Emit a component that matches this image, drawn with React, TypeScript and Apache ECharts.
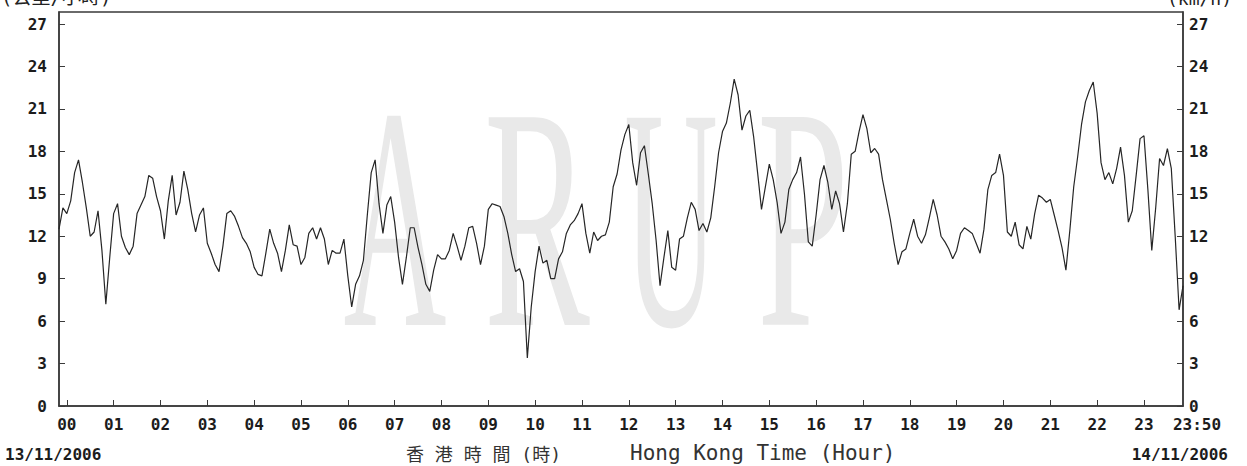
import React, { useEffect, useRef } from "react";
import * as echarts from "echarts";

// Time axis in minutes from 00:00 on 14/11/2006; the record starts at 23:50 of the previous day.
const START_MINUTE = -10;
const STEP_MINUTES = 5;
const END_MINUTE = 1430;
const END_LABEL = "23:50";

const hourTicks = [0, 60, 120, 180, 240, 300, 360, 420, 480, 540, 600, 660, 720, 780, 840, 900, 960, 1020, 1080, 1140, 1200, 1260, 1320, 1380];
const hourLabels = ["00", "01", "02", "03", "04", "05", "06", "07", "08", "09", "10", "11", "12", "13", "14", "15", "16", "17", "18", "19", "20", "21", "22", "23"];
const speedTicks = [0, 3, 6, 9, 12, 15, 18, 21, 24, 27];
const SPEED_MAX = 27.85;

const startDate = "13/11/2006";
const endDate = "14/11/2006";
const axisTitleZh = "香 港 時 間 (時)";
const axisTitleEn = "Hong Kong Time (Hour)";
const unitZh = "(公里/小時)";
const unitEn = "(km/h)";
const watermark = ["A", "R", "U", "P"];

// Wind speed (km/h), one reading every 5 minutes from 23:50 to 23:50.
const windSpeed = [
  12.5, 14.0,
  13.6, 14.5, 16.5, 17.4, 15.8, 14.0, 12.0, 12.3, 13.8, 11.0, 7.2, 10.5,
  13.6, 14.3, 12.0, 11.2, 10.7, 11.3, 13.6, 14.2, 14.8, 16.3, 16.1, 14.8,
  13.8, 11.8, 14.5, 16.3, 13.5, 14.4, 16.6, 15.3, 13.6, 12.3, 13.5, 14.0,
  11.5, 10.8, 10.0, 9.5, 11.3, 13.6, 13.8, 13.4, 12.7, 11.9, 11.5, 10.9,
  9.8, 9.3, 9.2, 10.8, 12.5, 11.5, 10.8, 9.5, 11.0, 12.8, 11.4, 11.3,
  10.0, 10.5, 12.2, 12.6, 11.8, 12.6, 11.8, 10.0, 11.0, 10.8, 10.8, 11.8,
  9.2, 7.0, 8.6, 9.2, 10.3, 13.5, 16.5, 17.4, 14.3, 12.2, 14.2, 14.8,
  13.0, 10.5, 8.6, 10.5, 12.6, 12.6, 11.2, 10.0, 8.6, 8.1, 9.6, 10.7,
  10.4, 10.4, 11.0, 12.2, 11.3, 10.3, 11.3, 12.6, 12.7, 11.5, 10.0, 11.3,
  13.9, 14.3, 14.2, 14.1, 13.4, 12.2, 10.7, 9.5, 9.7, 8.8, 3.4, 7.0,
  9.5, 11.3, 10.1, 10.3, 9.0, 9.0, 10.4, 10.9, 12.2, 12.8, 13.1, 13.6,
  14.3, 12.2, 10.8, 12.3, 11.7, 12.0, 12.1, 13.0, 15.5, 16.4, 18.1, 19.2,
  19.9, 17.2, 15.6, 17.9, 18.4, 16.4, 14.3, 11.7, 8.5, 10.5, 12.4, 9.8,
  9.6, 11.8, 12.0, 13.3, 14.4, 13.9, 12.4, 12.9, 12.3, 13.3, 15.5, 17.9,
  19.4, 20.0, 21.4, 23.1, 22.0, 19.5, 20.5, 20.9, 19.0, 16.5, 13.9, 15.5,
  17.1, 16.0, 14.4, 12.2, 13.0, 15.3, 16.0, 16.5, 17.6, 15.0, 11.6, 11.3,
  13.5, 16.0, 17.0, 15.8, 13.9, 15.2, 14.3, 12.3, 14.3, 17.8, 18.0, 19.4,
  20.6, 19.6, 17.9, 18.2, 17.8, 16.0, 14.6, 13.2, 11.5, 10.0, 10.9, 11.1,
  12.2, 13.2, 12.0, 11.5, 12.1, 13.3, 14.6, 13.5, 12.0, 11.6, 11.1, 10.4,
  11.0, 12.2, 12.6, 12.4, 12.2, 11.5, 10.8, 12.5, 15.3, 16.3, 16.5, 17.8,
  16.3, 12.3, 12.0, 13.0, 11.4, 11.1, 12.7, 11.8, 13.6, 14.9, 14.7, 14.4,
  14.6, 13.5, 12.4, 11.2, 9.6, 12.4, 15.5, 17.6, 19.9, 21.5, 22.3, 22.9,
  20.7, 17.2, 16.0, 16.5, 15.7, 16.8, 18.3, 16.3, 13.0, 13.8, 16.3, 18.9,
  19.1, 15.3, 11.0, 14.0, 17.5, 17.0, 18.2, 16.8, 12.0, 6.8, 8.5,
];

const MONO = '"DejaVu Sans Mono", "Noto Sans CJK TC", monospace';
const AXIS_COLOR = "#3a3a3a";
const TEXT_COLOR = "#1c1c1c";

const labelFont = {
  fontFamily: MONO,
  fontWeight: "bold" as const,
  fontSize: 16,
  color: TEXT_COLOR,
};

export default function App() {
  const ref = useRef<HTMLDivElement>(null);

  useEffect(() => {
    if (!ref.current) return;
    const chart = echarts.init(ref.current, undefined, { renderer: "svg" });

    const seriesData = windSpeed.map((v, i) => [START_MINUTE + i * STEP_MINUTES, v]);

    const speedAxis = (position: "left" | "right", margin: number) => ({
      type: "value" as const,
      position,
      min: 0,
      max: SPEED_MAX,
      axisLine: { show: true, onZero: false, lineStyle: { color: AXIS_COLOR, width: 1.6 } },
      axisTick: {
        show: true,
        inside: true,
        length: 6,
        customValues: speedTicks,
        lineStyle: { color: AXIS_COLOR, width: 1 },
      },
      axisLabel: { customValues: speedTicks, margin, ...labelFont },
      splitLine: { show: false },
    });

    const letterX = [395, 537, 671, 803];
    const letterScale = [0.45, 0.5, 0.41, 0.52];

    chart.setOption({
      animation: false,
      backgroundColor: "#ffffff",
      grid: {
        left: 59,
        right: 64,
        top: 12,
        bottom: 60,
        show: true,
        borderColor: AXIS_COLOR,
        borderWidth: 1.4,
        backgroundColor: "transparent",
      },
      xAxis: {
        type: "value",
        min: START_MINUTE,
        max: END_MINUTE,
        axisLine: { show: true, onZero: false, lineStyle: { color: AXIS_COLOR, width: 1.6 } },
        axisTick: {
          show: true,
          inside: true,
          length: 6,
          customValues: hourTicks,
          lineStyle: { color: AXIS_COLOR, width: 1 },
        },
        axisLabel: {
          customValues: [...hourTicks, END_MINUTE],
          margin: 10,
          ...labelFont,
          formatter: (v: number) =>
            v === END_MINUTE ? "{end|" + END_LABEL + "}" : hourLabels[Math.round(v / 60)],
          rich: {
            end: { ...labelFont, padding: [0, 0, 0, 28] },
          },
        },
        splitLine: { show: false },
      },
      yAxis: [speedAxis("left", 12), speedAxis("right", 6)],
      series: [
        {
          type: "line",
          data: seriesData,
          yAxisIndex: 0,
          symbol: "none",
          showSymbol: false,
          z: 5,
          lineStyle: { color: "#262626", width: 1.2 },
        },
      ],
      graphic: [
        ...watermark.map((ch, i) => ({
          type: "text",
          x: letterX[i],
          y: 218,
          scaleX: letterScale[i],
          z: 0,
          silent: true,
          style: {
            text: ch,
            font: '317px "Liberation Serif", "DejaVu Serif", serif',
            fill: "#e9e9e9",
            align: "center",
            verticalAlign: "middle",
          },
        })),
        {
          type: "text",
          x: 5,
          y: 454,
          style: {
            text: startDate,
            font: 'bold 16px ' + MONO,
            fill: TEXT_COLOR,
            align: "left",
            verticalAlign: "middle",
          },
        },
        {
          type: "text",
          x: 1228,
          y: 454,
          style: {
            text: endDate,
            font: 'bold 16px ' + MONO,
            fill: TEXT_COLOR,
            align: "right",
            verticalAlign: "middle",
          },
        },
        {
          type: "text",
          x: 406,
          y: 454,
          style: {
            text: axisTitleZh,
            font: '18px ' + MONO,
            fill: "#333333",
            align: "left",
            verticalAlign: "middle",
          },
        },
        {
          type: "text",
          x: 630,
          y: 453,
          style: {
            text: axisTitleEn,
            font: '21px ' + MONO,
            fill: "#333333",
            align: "left",
            verticalAlign: "middle",
          },
        },
        {
          type: "text",
          x: 1,
          y: -3,
          style: {
            text: unitZh,
            font: '19px ' + MONO,
            fill: "#222222",
            align: "left",
            verticalAlign: "middle",
          },
        },
        {
          type: "text",
          x: 1167,
          y: -2,
          style: {
            text: unitEn,
            font: '18px ' + MONO,
            fill: "#222222",
            align: "left",
            verticalAlign: "middle",
          },
        },
      ],
    });

    return () => chart.dispose();
  }, []);

  return (
    <div
      ref={ref}
      style={{ position: "absolute", left: 0, top: 0, width: 1247, height: 466, background: "#fff" }}
    />
  );
}
